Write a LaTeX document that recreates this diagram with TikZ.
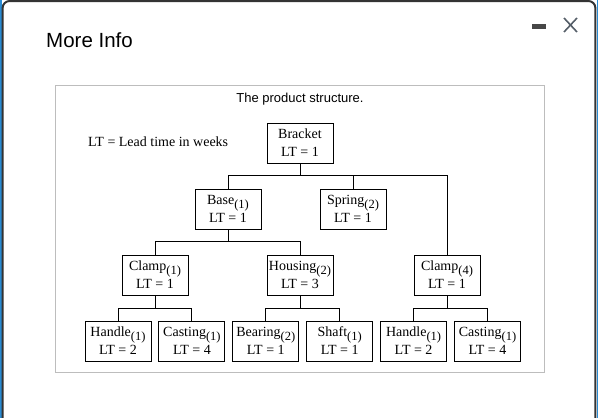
\documentclass[tikz,border=0pt]{standalone}
\usepackage{fontspec}
\setmainfont{Liberation Serif}
\newfontfamily\uifont{Liberation Sans}
\usetikzlibrary{positioning}
\definecolor{frame}{HTML}{333333}
\definecolor{edgeblue}{HTML}{2A8BD2}
\definecolor{panel}{HTML}{BDBDBD}
\definecolor{ctrl}{HTML}{555E68}
\newcommand{\qn}[1]{\raisebox{-4pt}{\fontsize{12.5}{12.5}\selectfont(#1)}}

\begin{document}
\begin{tikzpicture}[
  x=1pt, y=-1pt,
  part/.style={draw, line width=0.9pt, minimum width=66pt, minimum height=40pt, inner sep=0pt,
    align=center, font=\fontsize{14}{18}\selectfont},
  link/.style={line width=0.9pt}
]
\useasboundingbox (0,0) rectangle (598,418);
% window
\fill[edgeblue] (0,0) rectangle (1.6,418);
\fill[edgeblue] (596.6,0) rectangle (598,418);
\draw[frame, line width=2pt, rounded corners=7pt] (2.6,430) -- (2.6,1) -- (595.4,1) -- (595.4,430);
\node[anchor=base west, inner sep=0pt, font=\uifont\fontsize{20.5}{24}\selectfont] (title) at (46,47) {More Info};
\fill[frame!90] (532,24) rectangle (546,29);
\draw[ctrl, line width=1.6pt] (564,18) -- (577,32) (577,18) -- (564,32);
\draw[panel, line width=1pt] (55,85) rectangle (544,372);
\node[font=\uifont\fontsize{13}{15}\selectfont, inner sep=0pt] (caption) at (300,99) {The product structure.};
\node[anchor=base west, inner sep=0pt, font=\fontsize{14}{16}\selectfont] (legend) at (88,146) {LT = Lead time in weeks};

% parts
\node[part] (bracket) at (300,143) {Bracket\\LT = 1};
\node[part] (base) at (228,209) {Base\qn{1}\\LT = 1};
\node[part] (spring) at (353,209) {Spring\qn{2}\\LT = 1};
\node[part] (clampA) at (155,275) {Clamp\qn{1}\\LT = 1};
\node[part] (housing) at (300,275) {Housing\qn{2}\\LT = 3};
\node[part] (clampB) at (447,275) {Clamp\qn{4}\\LT = 1};
\node[part] (handleA) at (118,341) {Handle\qn{1}\\LT = 2};
\node[part, right=7pt of handleA] (castingA) {Casting\qn{1}\\LT = 4};
\node[part, right=7pt of castingA] (bearing) {Bearing\qn{2}\\LT = 1};
\node[part, right=7pt of bearing] (shaft) {Shaft\qn{1}\\LT = 1};
\node[part, right=7pt of shaft] (handleB) {Handle\qn{1}\\LT = 2};
\node[part, right=7pt of handleB] (castingB) {Casting\qn{1}\\LT = 4};

% links
\draw[link] (bracket.south) -- ++(0,13);
\draw[link] (base.north) -- ++(0,-13) -| (clampB.north);
\draw[link] (spring.north) -- ++(0,-13);
\draw[link] (base.south) -- ++(0,13);
\draw[link] (clampA.north) -- ++(0,-13) -| (housing.north);
\draw[link] (clampA.south) -- ++(0,14);
\draw[link] (handleA.north) -- ++(0,-12) -| (castingA.north);
\draw[link] (housing.south) -- ++(0,14);
\draw[link] (bearing.north) -- ++(0,-12) -| (shaft.north);
\draw[link] (clampB.south) -- ++(0,14);
\draw[link] (handleB.north) -- ++(0,-12) -| (castingB.north);
\end{tikzpicture}
\end{document}
